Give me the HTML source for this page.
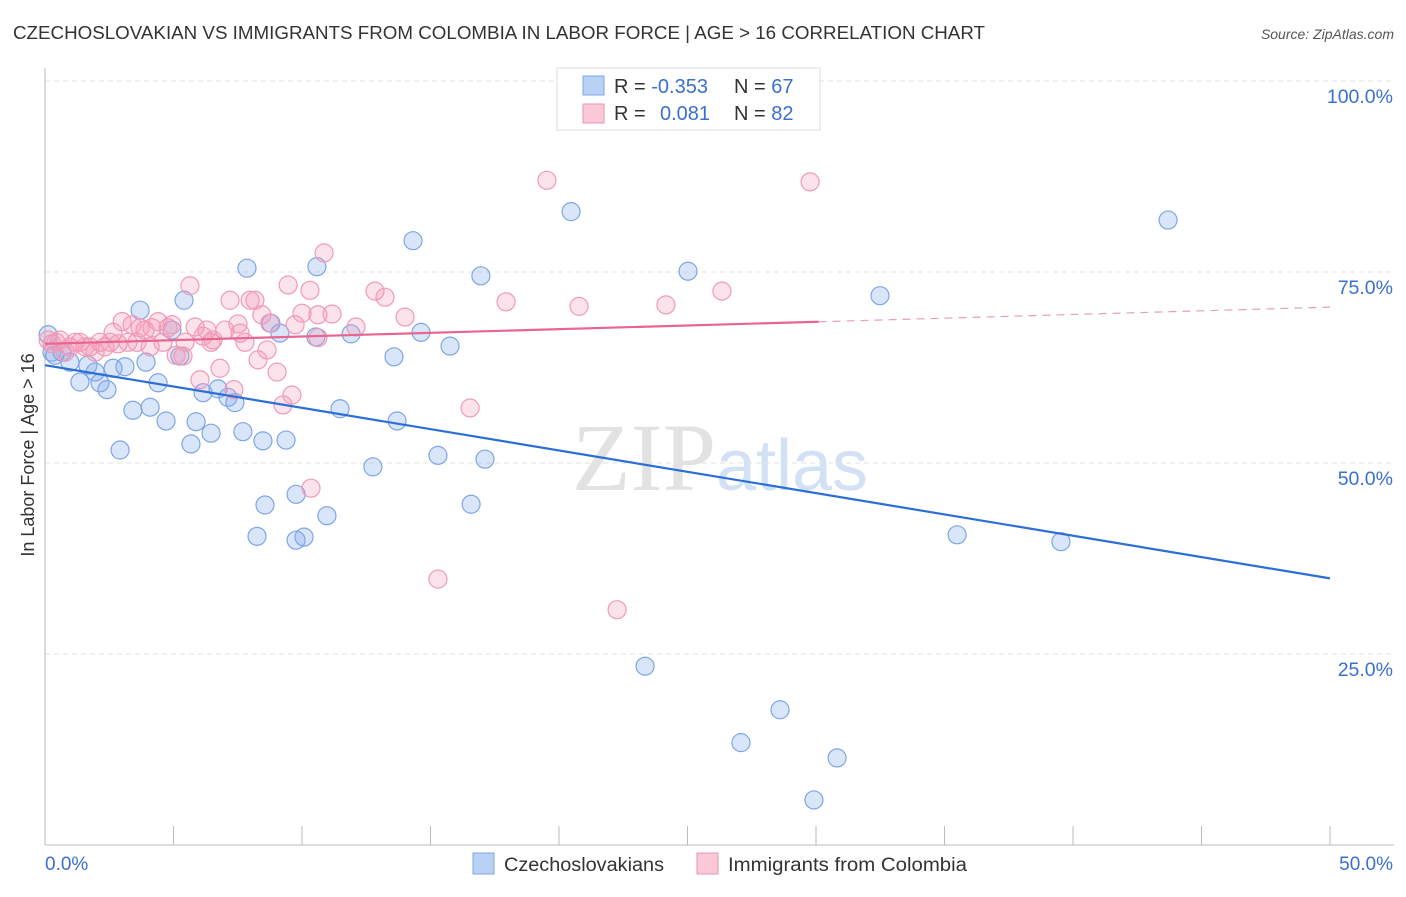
<!DOCTYPE html>
<html><head><meta charset="utf-8"><style>
body{margin:0;background:#fff;font-family:"Liberation Sans",sans-serif}
</style></head><body>
<svg width="1406" height="892" xmlns="http://www.w3.org/2000/svg" font-family="Liberation Sans, sans-serif">
<text x="13" y="39" font-size="18" fill="#333" textLength="972" lengthAdjust="spacingAndGlyphs">CZECHOSLOVAKIAN VS IMMIGRANTS FROM COLOMBIA IN LABOR FORCE | AGE &gt; 16 CORRELATION CHART</text>
<text x="1394" y="39" font-size="14" font-style="italic" fill="#555" text-anchor="end">Source: ZipAtlas.com</text>
<text x="720" y="490" font-size="96" fill="#e2e2e2" text-anchor="middle" font-family="Liberation Serif, serif">ZIP<tspan fill="#d3e1f5" font-family="Liberation Sans, sans-serif" font-size="72">atlas</tspan></text>
<g id="grid"></g>
<g id="axes"></g>
<g id="pts"></g>
<g id="lines"></g>
<text transform="translate(34,455) rotate(-90)" font-size="18" fill="#333" text-anchor="middle">In Labor Force | Age &gt; 16</text>
<g>
<rect x="557" y="68" width="263" height="62" fill="#fff" stroke="#ddd"/>
<rect x="583" y="76" width="21" height="19" fill="#b9d1f5" stroke="#7da6e6"/>
<rect x="583" y="104" width="21" height="19" fill="#fac8d6" stroke="#eb95b0"/>
<text x="614" y="93" font-size="20" fill="#333">R = <tspan fill="#3b6fd0">-0.353</tspan><tspan x="734">N = </tspan><tspan fill="#3b6fd0">67</tspan></text>
<text x="614" y="120" font-size="20" fill="#333">R = <tspan x="660" fill="#3b6fd0">0.081</tspan><tspan x="734">N = </tspan><tspan fill="#3b6fd0">82</tspan></text>
</g>
<g>
<rect x="473" y="853" width="21" height="21" fill="#b9d1f5" stroke="#7da6e6"/>
<text x="504" y="871" font-size="19" fill="#333" textLength="160" lengthAdjust="spacingAndGlyphs">Czechoslovakians</text>
<rect x="697" y="853" width="21" height="21" fill="#fac8d6" stroke="#eb95b0"/>
<text x="728" y="871" font-size="19" fill="#333" textLength="239" lengthAdjust="spacingAndGlyphs">Immigrants from Colombia</text>
</g>
</svg>
<script>
const yTicks=[25,50,75,100];
const yTickLabels=["25.0%","50.0%","75.0%","100.0%"];
const blueX=[0.12,0.27,0.39,0.66,0.97,1.36,1.67,1.95,2.14,2.41,2.65,2.92,3.11,3.42,3.70,3.93,4.09,4.40,4.71,4.94,5.25,5.41,5.68,5.88,6.15,6.46,6.73,7.12,7.39,7.70,7.86,8.25,8.48,8.56,8.79,9.14,9.38,9.77,9.77,10.08,10.58,10.54,10.97,11.48,11.91,12.76,13.58,13.70,14.32,14.63,15.29,15.76,16.58,16.96,17.12,20.47,23.35,25.02,27.08,28.60,29.92,30.82,32.49,35.49,39.53,43.70];
const blueY=[66.8,64.5,64.1,64.5,63.2,60.6,62.8,61.9,60.5,59.6,62.4,51.7,62.6,56.9,70.0,63.2,57.3,60.5,55.5,67.4,64.0,71.3,52.5,55.4,59.2,53.9,59.7,58.6,57.9,54.1,75.5,40.4,52.9,44.5,68.3,67.0,53.0,45.9,39.9,40.3,75.7,66.5,43.1,57.1,66.9,49.5,63.9,55.5,79.1,67.1,51.0,65.3,44.6,74.5,50.5,82.9,23.4,75.1,13.4,17.7,5.9,11.4,71.9,40.6,39.7,81.8];
const pinkX=[0.12,0.27,0.43,0.58,0.78,0.97,1.17,1.36,1.56,1.75,1.95,2.14,2.33,2.53,2.65,2.84,3.00,3.23,3.39,3.58,3.70,3.89,4.09,4.16,4.40,4.59,4.79,4.94,5.10,5.37,5.45,5.64,5.84,6.03,6.15,6.30,6.46,6.54,6.81,7.00,7.20,7.35,7.51,7.59,7.78,7.98,8.17,8.29,8.44,8.64,8.75,9.03,9.26,9.46,9.61,9.73,10.00,10.31,10.35,10.62,10.62,10.86,11.17,12.10,12.84,13.23,14.01,15.29,16.54,17.94,19.53,20.78,22.26,24.16,26.34,29.77];
const pinkY=[66.1,65.6,65.8,66.1,64.5,65.2,65.8,65.8,65.2,65.2,64.5,65.8,65.2,65.8,67.1,65.6,68.5,65.8,68.1,65.8,67.7,67.4,65.2,67.7,68.5,65.8,67.7,68.1,64.1,64.0,65.8,73.2,67.8,60.9,66.6,67.4,65.8,66.1,62.4,67.4,71.3,59.6,68.2,67.0,65.8,71.3,71.3,63.5,69.4,64.8,68.3,61.9,57.6,73.3,58.9,68.1,69.6,72.6,46.7,69.4,66.4,77.5,69.5,67.8,72.5,71.7,69.1,34.8,57.2,71.1,87.0,70.5,30.8,70.7,72.5,86.8];
const blueTrend=[62.8,34.9];
const pinkTrend=[65.6,70.4];
const pinkSolidEnd=30.1;
const NS="http://www.w3.org/2000/svg";
const X=v=>45+v*25.7, Y=v=>845-v*7.64;
function mk(t,a,p){const e=document.createElementNS(NS,t);for(const k in a)e.setAttribute(k,a[k]);p.appendChild(e);return e;}
const grid=document.getElementById('grid'),axes=document.getElementById('axes'),pts=document.getElementById('pts'),lines=document.getElementById('lines');
yTicks.forEach((t,i)=>{
 const g=mk('line',{x1:45,x2:1394,y1:Y(t),y2:Y(t),stroke:'#e2e2e2','stroke-dasharray':'5,4'},grid);
 
 
 const l=mk('text',{x:1393,y:Y(t)+22,'font-size':19.5,fill:'#3b6fd0','text-anchor':'end'},axes);
 l.textContent=yTickLabels[i];
 
 
});
const ya=mk('line',{x1:45,x2:45,y1:68,y2:845,stroke:'#bbb'},axes);


const xa=mk('line',{x1:45,x2:1394,y1:845,y2:845,stroke:'#bbb'},axes);


for(let i=0;i<=10;i++){const t=mk('line',{x1:X(i*5),x2:X(i*5),y1:826,y2:845,stroke:'#bbb'},axes);
 
 }
const x0=mk('text',{x:45,y:870,'font-size':19,fill:'#3b6fd0'},axes);x0.textContent='0.0%';


const x1=mk('text',{x:1393,y:870,'font-size':19,fill:'#3b6fd0','text-anchor':'end'},axes);x1.textContent='50.0%';


blueX.forEach((v,i)=>{const c=mk('circle',{cx:X(v),cy:Y(blueY[i]),r:9,fill:'rgba(130,170,235,0.3)',stroke:'#7ea6e6','stroke-width':1.2},pts);
 
 });
pinkX.forEach((v,i)=>{const c=mk('circle',{cx:X(v),cy:Y(pinkY[i]),r:9,fill:'rgba(245,150,180,0.28)',stroke:'#f09ab7','stroke-width':1.2},pts);
 
 });
const bl=mk('line',{x1:X(0),y1:Y(blueTrend[0]),x2:X(50),y2:Y(blueTrend[1]),stroke:'#2b6fd6','stroke-width':2.2},lines);


const pm=pinkTrend[0]+(pinkTrend[1]-pinkTrend[0])*pinkSolidEnd/50;
const pl=mk('line',{x1:X(0),y1:Y(pinkTrend[0]),x2:X(pinkSolidEnd),y2:Y(pm),stroke:'#e8658f','stroke-width':2.2},lines);


const pd=mk('line',{x1:X(pinkSolidEnd),y1:Y(pm),x2:X(50),y2:Y(pinkTrend[1]),stroke:'#e8a0b8','stroke-width':1.2,'stroke-dasharray':'8,6'},lines);


</script>
</body></html>
